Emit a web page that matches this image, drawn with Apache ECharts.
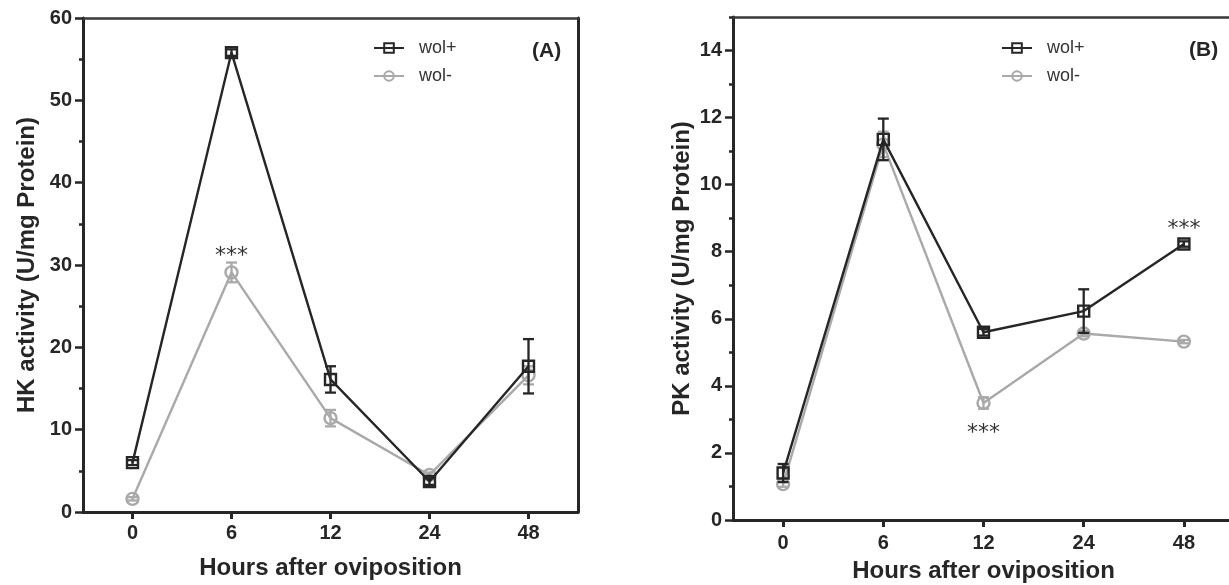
<!DOCTYPE html>
<html>
<head>
<meta charset="utf-8">
<script src="https://cdn.jsdelivr.net/npm/echarts@6/dist/echarts.min.js"></script>
<style>
  html, body { margin: 0; padding: 0; background: #ffffff; }
  #chart { width: 1229px; height: 585px; }
</style>
</head>
<body>
<div id="chart"></div>
<script>
// ---- data ----
const hours = ['0', '6', '12', '24', '48'];
const seriesNames = ['wol+', 'wol-'];

// Panel A: HK activity (U/mg Protein)
const hkWolPlus = [6.0, 55.8, 16.1, 3.7, 17.7];
const hkWolPlusErr = [0.3, 0.4, 1.6, 0.4, 3.3];
const hkWolMinus = [1.6, 29.1, 11.4, 4.5, 16.6];
const hkWolMinusErr = [0.2, 1.2, 1.0, 0.3, 1.1];

// Panel B: PK activity (U/mg Protein)
const pkWolPlus = [1.40, 11.35, 5.60, 6.23, 8.23];
const pkWolPlusErr = [0.27, 0.62, 0.10, 0.65, 0.08];
const pkWolMinus = [1.07, 11.20, 3.49, 5.56, 5.32];
const pkWolMinusErr = [0.08, 0.38, 0.17, 0.08, 0.05];

const hkTicks = [0, 10, 20, 30, 40, 50, 60];
const pkMajorTicks = [0, 2, 4, 6, 8, 10, 12, 14];
const pkMinorTicks = [1, 3, 5, 7, 9, 11, 13, 15];

// ---- styling ----
const DARK = '#262626';
const GRAY = '#a9a9a9';
const FONT = '"Liberation Sans", Arial, Helvetica, sans-serif';
const STAR_FONT = '"DejaVu Sans", sans-serif';

function errData(vals, errs) {
  return vals.map((v, i) => [i, v - errs[i], v + errs[i]]);
}

function errSeries(vals, errs, color, xi, yi, z) {
  return {
    type: 'custom',
    name: 'err',
    xAxisIndex: xi, yAxisIndex: yi,
    z: z,
    silent: true,
    encode: { x: 0, y: [1, 2] },
    data: errData(vals, errs),
    renderItem: function (params, api) {
      const idx = api.value(0);
      const lo = api.coord([idx, api.value(1)]);
      const hi = api.coord([idx, api.value(2)]);
      const hw = 5.5;
      const st = { stroke: color, lineWidth: 2.3, fill: null };
      return {
        type: 'group',
        children: [
          { type: 'line', shape: { x1: lo[0], y1: lo[1], x2: hi[0], y2: hi[1] }, style: st },
          { type: 'line', shape: { x1: hi[0] - hw, y1: hi[1], x2: hi[0] + hw, y2: hi[1] }, style: st },
          { type: 'line', shape: { x1: lo[0] - hw, y1: lo[1], x2: lo[0] + hw, y2: lo[1] }, style: st }
        ]
      };
    }
  };
}

function lineSeries(name, vals, color, symbol, xi, yi, z, marks) {
  const s = {
    type: 'line',
    name: name,
    xAxisIndex: xi, yAxisIndex: yi,
    z: z,
    data: vals,
    symbol: symbol,
    symbolSize: symbol === 'rect' ? 11 : 12,
    showAllSymbol: true,
    lineStyle: { color: color, width: 2.4 },
    itemStyle: { color: 'rgba(255,255,255,0)', borderColor: color, borderWidth: 2.4 },
    emphasis: { disabled: true },
    animation: false
  };
  if (marks) {
    s.markPoint = {
      symbol: 'circle',
      symbolSize: 1,
      itemStyle: { color: 'rgba(0,0,0,0)' },
      silent: true,
      animation: false,
      data: marks.map(m => ({
        coord: [hours[m.i], vals[m.i]],
        label: {
          show: true,
          position: 'inside',
          formatter: '***',
          offset: [0, m.dy],
          fontFamily: STAR_FONT,
          fontSize: 22,
          color: '#333'
        }
      }))
    };
  }
  return s;
}

const tickLabelStyle = { fontFamily: FONT, fontWeight: 'bold', fontSize: 20, color: DARK };
const nameStyle = { fontFamily: FONT, fontWeight: 'bold', fontSize: 24, color: DARK };

function xAxes(gridIndex, gap, labelMargin) {
  return [
    {
      type: 'category', gridIndex: gridIndex, data: hours, position: 'bottom',
      boundaryGap: true,
      axisLine: { show: true, onZero: false, lineStyle: { color: DARK, width: 3 } },
      axisTick: { show: true, alignWithLabel: true, length: 7, lineStyle: { color: DARK, width: 3 } },
      axisLabel: Object.assign({ margin: labelMargin, interval: 0 }, tickLabelStyle),
      splitLine: { show: false },
      name: 'Hours after oviposition', nameLocation: 'middle', nameGap: gap,
      nameTextStyle: nameStyle, nameMoveOverlap: false
    },
    {
      type: 'category', gridIndex: gridIndex, data: hours, position: 'top',
      axisLine: { show: true, onZero: false, lineStyle: { color: '#3a3a3a', width: 2.5 } },
      axisTick: { show: false }, axisLabel: { show: false }, splitLine: { show: false }
    }
  ];
}

function legendAt(left) {
  return {
    left: left, top: 39, orient: 'vertical', padding: 0,
    itemWidth: 30, itemHeight: 12, itemGap: 10,
    data: seriesNames, selectedMode: false,
    textStyle: { fontFamily: FONT, fontSize: 18, color: '#333', padding: [0, 0, 0, 10] }
  };
}

const option = {
  backgroundColor: '#ffffff',
  animation: false,
  grid: [
    { left: 83, top: 18, width: 495, height: 494, outerBoundsMode: 'none', containLabel: false },
    { left: 733, top: 17, width: 501, height: 503, outerBoundsMode: 'none', containLabel: false }
  ],
  legend: [legendAt(373), legendAt(1001)],
  xAxis: [].concat(xAxes(0, 44, 11), xAxes(1, 39, 13)),
  yAxis: [
    {
      type: 'value', gridIndex: 0, min: hkTicks[0], max: hkTicks[hkTicks.length - 1], interval: 10,
      position: 'left',
      axisLine: { show: true, onZero: false, lineStyle: { color: DARK, width: 3 } },
      axisTick: { show: true, length: 8, lineStyle: { color: DARK, width: 2.5 } },
      minorTick: { show: true, splitNumber: 2, length: 4, lineStyle: { color: DARK, width: 2.5 } },
      axisLabel: Object.assign({ margin: 11 }, tickLabelStyle),
      splitLine: { show: false }, minorSplitLine: { show: false },
      name: 'HK activity (U/mg Protein)', nameLocation: 'middle', nameGap: 44, nameRotate: 90,
      nameTextStyle: nameStyle, nameMoveOverlap: false
    },
    {
      type: 'value', gridIndex: 0, min: hkTicks[0], max: hkTicks[hkTicks.length - 1], interval: 10,
      position: 'right',
      axisLine: { show: true, onZero: false, lineStyle: { color: DARK, width: 3 } },
      axisTick: { show: false }, axisLabel: { show: false }, splitLine: { show: false }
    },
    {
      type: 'value', gridIndex: 1, min: 0, max: 15, interval: 1,
      position: 'left',
      axisLine: { show: true, onZero: false, lineStyle: { color: DARK, width: 3 } },
      axisTick: { show: true, length: 8, customValues: pkMajorTicks, lineStyle: { color: DARK, width: 2.5 } },
      axisLabel: Object.assign({ margin: 11, customValues: pkMajorTicks }, tickLabelStyle),
      splitLine: { show: false },
      name: 'PK activity (U/mg Protein)', nameLocation: 'middle', nameGap: 39, nameRotate: 90,
      nameTextStyle: nameStyle, nameMoveOverlap: false
    },
    {
      type: 'value', gridIndex: 1, min: 0, max: 15, interval: 1,
      position: 'left',
      axisLine: { show: false },
      axisTick: { show: true, length: 4, customValues: pkMinorTicks, lineStyle: { color: DARK, width: 2.5 } },
      axisLabel: { show: false }, splitLine: { show: false }
    }
  ],
  graphic: [
    { type: 'text', left: 532, top: 41, style: { text: '(A)', font: 'bold 21px ' + FONT, fill: DARK } },
    { type: 'text', left: 1189, top: 40, style: { text: '(B)', font: 'bold 21px ' + FONT, fill: DARK } }
  ],
  series: [
    errSeries(hkWolMinus, hkWolMinusErr, GRAY, 0, 0, 2),
    errSeries(hkWolPlus, hkWolPlusErr, DARK, 0, 0, 4),
    lineSeries('wol-', hkWolMinus, GRAY, 'circle', 0, 0, 3, [{ i: 1, dy: -16 }]),
    lineSeries('wol+', hkWolPlus, DARK, 'rect', 0, 0, 5, null),

    errSeries(pkWolMinus, pkWolMinusErr, GRAY, 2, 2, 2),
    errSeries(pkWolPlus, pkWolPlusErr, DARK, 2, 2, 4),
    lineSeries('wol-', pkWolMinus, GRAY, 'circle', 2, 2, 3, [{ i: 2, dy: 30 }]),
    lineSeries('wol+', pkWolPlus, DARK, 'rect', 2, 2, 5, [{ i: 4, dy: -15 }])
  ]
};

const chart = echarts.init(document.getElementById('chart'), null, { renderer: 'canvas' });
chart.setOption(option);
</script>
</body>
</html>
